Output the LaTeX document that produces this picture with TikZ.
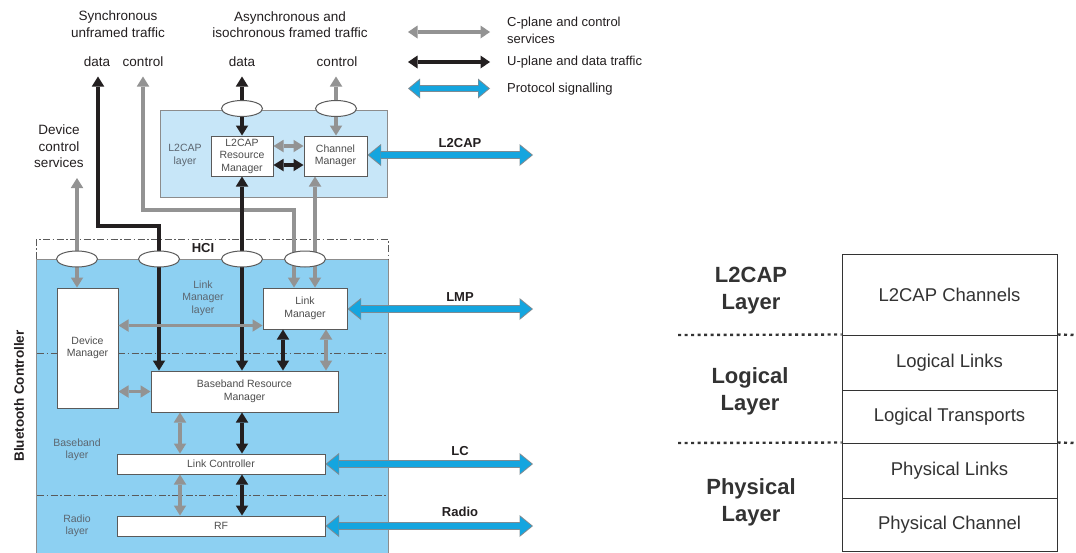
\documentclass[tikz,border=0pt]{standalone}
\usepackage{fontspec}
\setmainfont{Liberation Sans}
\usetikzlibrary{arrows.meta,shapes.geometric}
\pgfdeclarelayer{background}
\pgfdeclarelayer{lines}
\pgfsetlayers{background,lines,main}
\definecolor{ctrlblue}{HTML}{8DD0F2}
\definecolor{l2blue}{HTML}{C7E6F8}
\definecolor{sigblue}{HTML}{14A5DF}
\definecolor{sigedge}{HTML}{7D8B93}
\definecolor{cgray}{HTML}{939393}
\definecolor{ublack}{HTML}{231F20}
\definecolor{boxedge}{HTML}{5A5A5A}
\definecolor{txtgray}{HTML}{4D4D4D}
\definecolor{laygray}{HTML}{5C6670}
\definecolor{regedge}{HTML}{8C8C8C}
\definecolor{tbltxt}{HTML}{333333}
\tikzset{
  big/.style={font=\fontsize{13.5}{16.5}\selectfont, text=ublack, align=center, inner sep=0pt},
  legtxt/.style={font=\fontsize{13}{17}\selectfont, text=ublack, align=left, inner sep=0pt, anchor=west},
  small/.style={font=\fontsize{10.5}{12.5}\selectfont, text=txtgray, align=center, inner sep=0pt},
  laytxt/.style={small, text=laygray},
  box/.style={draw=boxedge, fill=white, line width=1pt, small},
  oval/.style={ellipse, draw=boxedge, fill=white, line width=1pt, minimum width=41pt, minimum height=16pt, inner sep=0pt},
  carrow/.style={draw=cgray, line width=3.2pt, >={Triangle[length=10pt,width=12.5pt,line width=0pt]}},
  uarrow/.style={draw=ublack, line width=3.2pt, >={Triangle[length=10pt,width=12.5pt,line width=0pt]}},
  sigout/.style={draw=sigedge, line width=7.6pt, >={Triangle[length=13.5pt,width=22pt,line width=0pt]}, <->},
  sigin/.style={draw=sigblue, line width=5.4pt, >={Triangle[length=11.5pt,width=18.5pt,line width=0pt]}, <->, shorten <=1.5pt, shorten >=1.5pt},
  siglabel/.style={font=\bfseries\fontsize{13}{15}\selectfont, text=ublack, inner sep=0pt},
  tblrow/.style={draw=tbltxt, fill=white, line width=1pt, minimum width=215pt, inner sep=0pt, font=\fontsize{18.5}{22}\selectfont, text=tbltxt},
  laylab/.style={font=\bfseries\fontsize{22}{27}\selectfont, align=center, text=tbltxt, inner sep=0pt},
  ddot/.style={draw=tbltxt, line width=2.4pt, dash pattern=on 3pt off 3.5pt},
  dashdot/.style={draw=boxedge, line width=1pt, dash pattern=on 7pt off 2.5pt on 1.5pt off 2.5pt},
}
\begin{document}
\begin{tikzpicture}[x=1pt,y=-1pt]
\useasboundingbox (0,0) rectangle (1076,552);

% ---------- regions ----------
\begin{pgfonlayer}{background}
  \fill[white] (0,0) rectangle (1076,552);
  \draw[fill=l2blue, draw=regedge, line width=0.9pt] (160,110) rectangle (387,197);
  \draw[fill=ctrlblue, draw=regedge, line width=0.9pt] (36,259) rectangle (388,556);
  \draw[dashdot] (36,259) -- (36,239) -- (388,239) -- (388,259);
  \draw[dashdot] (37,353) -- (387,353);
  \draw[dashdot] (37,495) -- (387,495);
\end{pgfonlayer}

% ---------- top labels ----------
\node[big] (synctxt) at (118,24) {Synchronous\\unframed traffic};
\node[big] (asynctxt) at (290,24.5) {Asynchronous and\\isochronous framed traffic};
\node[big] (sdatatxt) at (97,62) {data};
\node[big] (sctrltxt) at (143,62) {control};
\node[big] (adatatxt) at (242,62) {data};
\node[big] (actrltxt) at (337,62) {control};
\node[big] (dcstxt) at (59,146.5) {Device\\control\\services};

% ---------- legend ----------
\coordinate (lg1a) at (408,32);  \coordinate (lg1b) at (490,32);
\coordinate (lg2a) at (408,62);  \coordinate (lg2b) at (490,62);
\coordinate (lg3a) at (408,88.5);  \coordinate (lg3b) at (490,88.5);
\draw[carrow,<->, line width=3.8pt, >={Triangle[length=9.5pt,width=13pt,line width=0pt]}] (lg1a) -- (lg1b);
\draw[uarrow,<->, line width=3.8pt, >={Triangle[length=9.5pt,width=13pt,line width=0pt]}] (lg2a) -- (lg2b);
\draw[sigout, >={Triangle[length=12pt,width=20pt,line width=0pt]}] (lg3a) -- (lg3b);
\draw[sigin, >={Triangle[length=10pt,width=16.5pt,line width=0pt]}] (lg3a) -- (lg3b);
\node[legtxt] (leg1) at (507,30.5) {C-plane and control\\services};
\node[legtxt] (leg2) at (507,62) {U-plane and data traffic};
\node[legtxt] (leg3) at (507,89) {Protocol signalling};

% ---------- L2CAP layer ----------
\node[laytxt] (l2lay) at (185,155.5) {L2CAP\\layer};
\node[box, minimum width=62pt, minimum height=40pt] (rm) at (242,156) {L2CAP\\Resource\\Manager};
\node[box, minimum width=63pt, minimum height=40pt] (cm) at (335.5,156) {Channel\\Manager};
\node[oval] (t1) at (242,108.5) {};
\node[oval] (t2) at (336,108.5) {};

% ---------- controller ----------
\node[font=\bfseries\fontsize{13}{15}\selectfont, text=ublack, inner sep=0pt] (hci) at (203,248) {HCI};
\node[font=\bfseries\fontsize{13.5}{15}\selectfont, text=ublack, inner sep=0pt, rotate=90] (btc) at (19,396) {Bluetooth Controller};
\node[laytxt] (lmlay) at (203,298) {Link\\Manager\\layer};
\node[laytxt] (bblay) at (77,450) {Baseband\\layer};
\node[laytxt] (rdlay) at (77,526) {Radio\\layer};
\node[box, minimum width=61pt, minimum height=120pt] (dm) at (87.5,348) {Device\\Manager};
\node[box, minimum width=84pt, minimum height=41pt] (lm) at (305,308.5) {Link\\Manager};
\node[box, minimum width=187pt, minimum height=41pt] (brm) at (244.5,391.5) {Baseband Resource\\Manager};
\node[box, minimum width=208pt, minimum height=20pt] (lc) at (221,464) {Link Controller};
\node[box, minimum width=208pt, minimum height=20pt] (rf) at (221,526) {RF};
\node[oval] (e1) at (77,259) {};
\node[oval] (e2) at (159,259) {};
\node[oval] (e3) at (242,259) {};
\node[oval] (e4) at (305,259) {};

% helper coordinates
\coordinate (sdata) at (98,76.5);
\coordinate (sbend) at (159,226);
\coordinate (sctrl) at (143,76.5);
\coordinate (cbend) at (294,210);
\coordinate (adata) at (242,76.5);
\coordinate (actrl) at (336,76.5);
\coordinate (dcs) at (77,178);
\coordinate (xr) at (315,259);
\coordinate (ya) at (0,146);
\coordinate (yb) at (0,165);
\coordinate (yc) at (0,325.5);
\coordinate (xk) at (283,0);
\coordinate (xg) at (326,0);
\coordinate (xl) at (180,0);
\coordinate (xm) at (242,0);
\coordinate (l2end) at (533,155);
\coordinate (lmend) at (533,309);
\coordinate (lcend) at (533,464);
\coordinate (rfend) at (533,526);

% ---------- connectors ----------
\begin{pgfonlayer}{lines}
  \draw[carrow,<->] (sctrl) |- (cbend) -- (cbend |- lm.north);
  \draw[carrow,<->] (xr |- cm.south) -- (xr |- lm.north);
  \draw[carrow,<->] (actrl) -- (actrl |- cm.north);
  \draw[carrow,<->] (dcs) -- (dcs |- dm.north);
  \draw[uarrow,<->] (sdata) |- (sbend) -- (sbend |- brm.north);
  \draw[uarrow,<->] (adata) -- (rm.north);
  \draw[uarrow,<->] (rm.south) -- (rm.south |- brm.north);
\end{pgfonlayer}
\draw[carrow,<->] (rm.east |- ya) -- (cm.west |- ya);
\draw[uarrow,<->] (rm.east |- yb) -- (cm.west |- yb);
\draw[carrow,<->] (dm.east |- yc) -- (lm.west |- yc);
\draw[carrow,<->] (dm.east |- brm.west) -- (brm.west);
\draw[uarrow,<->] (xk |- lm.south) -- (xk |- brm.north);
\draw[carrow,<->] (xg |- lm.south) -- (xg |- brm.north);
\draw[carrow,<->] (xl |- brm.south) -- (xl |- lc.north);
\draw[uarrow,<->] (xm |- brm.south) -- (xm |- lc.north);
\draw[carrow,<->] (xl |- lc.south) -- (xl |- rf.north);
\draw[uarrow,<->] (xm |- lc.south) -- (xm |- rf.north);

% ---------- protocol signalling ----------
\draw[sigout] (cm.east |- l2end) -- (l2end);
\draw[sigin]  (cm.east |- l2end) -- (l2end);
\draw[sigout] (lm.east |- lmend) -- (lmend);
\draw[sigin]  (lm.east |- lmend) -- (lmend);
\draw[sigout] (lc.east) -- (lcend);
\draw[sigin]  (lc.east) -- (lcend);
\draw[sigout] (rf.east) -- (rfend);
\draw[sigin]  (rf.east) -- (rfend);
\node[siglabel] (l2lab) at (460,143) {L2CAP};
\node[siglabel] (lmplab) at (460,297) {LMP};
\node[siglabel] (lclab) at (460,451) {LC};
\node[siglabel] (rdlab) at (460,512) {Radio};

% ---------- right table ----------
\node[tblrow, minimum height=81pt] (r1) at (949.5,294.5) {L2CAP Channels};
\node[tblrow, minimum height=55pt] (r2) at (949.5,362.5) {Logical Links};
\node[tblrow, minimum height=53pt] (r3) at (949.5,416.5) {Logical Transports};
\node[tblrow, minimum height=55pt] (r4) at (949.5,470.5) {Physical Links};
\node[tblrow, minimum height=53pt] (r5) at (949.5,524.5) {Physical Channel};
\node[laylab] (lyl2) at (751,290.5) {L2CAP\\Layer};
\node[laylab] (lylog) at (750,391) {Logical\\Layer};
\node[laylab] (lyphy) at (751,502) {Physical\\Layer};
\draw[ddot] (678,335) -- (r2.north west);
\draw[ddot] (r2.north east) -- (1076,335);
\draw[ddot] (678,443) -- (r4.north west);
\draw[ddot] (r4.north east) -- (1076,443);
\end{tikzpicture}
\end{document}
